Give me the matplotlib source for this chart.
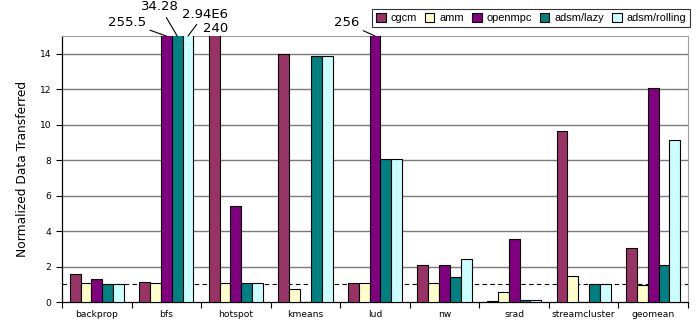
import numpy as np
import matplotlib
matplotlib.use('Agg')
import matplotlib.pyplot as plt
from matplotlib.ticker import FixedLocator

benchmarks = ['backprop', 'bfs', 'hotspot', 'kmeans', 'lud', 'nw', 'srad',
              'streamcluster', 'geomean']
systems = ['cgcm', 'amm', 'openmpc', 'adsm/lazy', 'adsm/rolling']

# normalized data transferred, one list per system (0 = no result)
cgcm = [1.58, 1.13, 240, 14.0, 1.05, 2.09, 0.08, 9.64, 3.03]
amm = [1.05, 1.05, 1.05, 0.73, 1.05, 1.05, 0.58, 1.45, 0.96]
openmpc = [1.3, 255.5, 5.41, 0, 256, 2.09, 3.55, 0, 12.07]
adsm_lazy = [1.0, 34.28, 1.05, 13.87, 8.07, 1.39, 0.1, 1.0, 2.1]
adsm_rolling = [1.0, 2.94e6, 1.05, 13.87, 8.07, 2.44, 0.1, 1.0, 9.14]

colors = ['#993366', '#ffffcc', '#800080', '#008080', '#ccffff']
ymax = 15


def value_label(v):
    if v >= 1e6:
        exp = int(np.floor(np.log10(v)))
        return '%gE%d' % (round(v / 10 ** exp, 2), exp)
    return '%g' % v


# where the text of each off-scale value goes, in pixels from the bar top
label_offsets = {
    (1, 2): (-39.5, 14),
    (1, 3): (-17, 29),
    (1, 4): (16.5, 22),
    (2, 0): (1, 8),
    (4, 2): (-28.5, 13),
}

fig = plt.figure(figsize=(6.99, 3.27), dpi=100)
ax = fig.add_axes([62 / 699, 25 / 327, 626 / 699, 266 / 327])

series = [cgcm, amm, openmpc, adsm_lazy, adsm_rolling]
x = np.arange(len(benchmarks))
width = 0.156
handles = []
for k, vals in enumerate(series):
    b = ax.bar(x + (k - 2) * width, vals, width, color=colors[k],
               edgecolor='black', linewidth=0.8, label=systems[k], zorder=3)
    handles.append(b)

# values that run off the top of the axes get a text label
for (i, k), (dx, dy) in label_offsets.items():
    v = series[k][i]
    bx = x[i] + (k - 2) * width
    arrow = None
    if abs(dx) > 5:
        arrow = dict(arrowstyle='-', color='black', lw=0.8,
                     shrinkA=1, shrinkB=0)
    ax.annotate(value_label(v), xy=(bx, ymax), xytext=(dx, dy),
                textcoords='offset pixels', ha='center', va='center',
                fontsize=9.5, arrowprops=arrow, annotation_clip=False)

ax.axhline(1, color='black', lw=0.8, ls=(0, (4, 3)), zorder=2)

ax.set_xlim(-0.5, len(benchmarks) - 0.5)
ax.set_ylim(0, ymax)
ax.set_yticks(np.arange(0, 15, 2))
for y in range(2, 15, 2):
    ax.axhline(y, color='#7a7a7a', lw=1.0, zorder=1)

ax.xaxis.set_major_locator(FixedLocator(np.arange(-0.5, len(benchmarks), 1)))
ax.xaxis.set_minor_locator(FixedLocator(x))
ax.set_xticklabels([])
ax.set_xticklabels(benchmarks, minor=True)
ax.tick_params(axis='x', which='major', length=4, width=0.8, direction='out')
ax.tick_params(axis='x', which='minor', length=0, pad=6, labelsize=6.6)
ax.tick_params(axis='y', length=4, width=0.8, direction='out', labelsize=6.6)

ax.spines['top'].set_color('#a0a0a0')
ax.spines['right'].set_color('#a0a0a0')
ax.spines['left'].set_linewidth(0.9)
ax.spines['bottom'].set_linewidth(0.9)

ax.set_ylabel('Normalized Data Transferred', fontsize=8.8, labelpad=8)

leg = ax.legend(handles=handles, ncol=5, loc='upper right',
                bbox_to_anchor=(690 / 699, 1 - 9 / 327),
                bbox_transform=fig.transFigure,
                prop={'family': 'Liberation Sans', 'size': 7.9},
                frameon=True, fancybox=False, edgecolor='black',
                handlelength=0.85, handleheight=0.85, handletextpad=0.45,
                columnspacing=0.75, borderpad=0.35, borderaxespad=0)
leg.get_frame().set_linewidth(0.8)

fig.savefig('out.png', dpi=100)
